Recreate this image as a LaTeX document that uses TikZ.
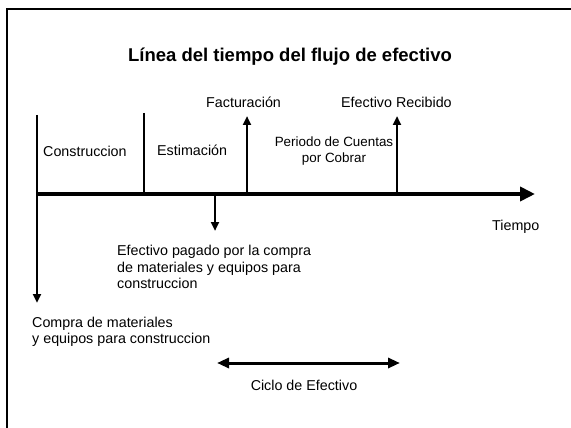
\documentclass[tikz,border=0pt]{standalone}
\usepackage{fontspec}
\setmainfont{Liberation Sans}
\usetikzlibrary{arrows.meta}
\newcommand{\lbl}{\fontsize{14.3}{16.2}\selectfont}

\begin{document}
\begin{tikzpicture}[x=1pt,y=-1pt,
  txt/.style={inner sep=0pt,font=\lbl},
  tip/.style={-{Triangle[length=9pt,width=8pt]}}]
  \useasboundingbox (0,0) rectangle (571,428);
  \draw[line width=2.5pt] (7,428) -- (7,9) -- (571,9);
  \node (title) [anchor=base,inner sep=0pt,font=\fontsize{18.5}{22}\selectfont\bfseries]
     at (290,61.5) {Línea del tiempo del flujo de efectivo};
  % labels
  \node (cons) [txt,anchor=base west] at (43,157) {Construccion};
  \node (esti) [txt,anchor=base west] at (157,156) {Estimación};
  \node (fact) [txt,anchor=base west] at (206,108) {Facturación};
  \node (rec) [txt,anchor=base west] at (341,108) {Efectivo Recibido};
  \node (cxc) [txt,anchor=north,align=center,font=\fontsize{13.4}{16}\selectfont]
     at (334,137) {Periodo de Cuentas\\por Cobrar};
  \node (tiem) [txt,anchor=base west] at (492,230) {Tiempo};
  \node (pago) [txt,anchor=north west,align=left,font=\fontsize{14.3}{16.5}\selectfont]
     at (117,245) {Efectivo pagado por la compra\\ de materiales y equipos para\\construccion};
  \node (comp) [txt,anchor=north west,align=left] at (32,317)
     {Compra de materiales\\y equipos para construccion};
  \node (ciclo) [txt,anchor=base] at (304,390) {Ciclo de Efectivo};
  % points of the time line
  \coordinate (t0) at (37,194);
  \coordinate (t1) at (535,194);
  \coordinate (c0) at (37,115);
  \coordinate (c1) at (37,303);
  \coordinate (e0) at (144,113);
  \coordinate (e1) at (144,194);
  \coordinate (f0) at (247,194);
  \coordinate (f1) at (247,116);
  \coordinate (r0) at (397,194);
  \coordinate (r1) at (397,116);
  \coordinate (p0) at (215,194);
  \coordinate (p1) at (215,231);
  \coordinate (y0) at (217,363);
  \coordinate (y1) at (400,363);
  \path[line width=4.3pt,-{Triangle[length=15pt,width=14pt]}]
    (t0) edge (t1);
  \path[line width=2.7pt]
    (c0) edge[tip] (c1)
    (e0) edge (e1)
    (f0) edge[tip] (f1)
    (r0) edge[tip] (r1)
    (p0) edge[tip] (p1);
  \path[line width=3pt,{Triangle[length=12pt,width=10pt]}-{Triangle[length=12pt,width=10pt]}]
    (y0) edge (y1);
\end{tikzpicture}
\end{document}
